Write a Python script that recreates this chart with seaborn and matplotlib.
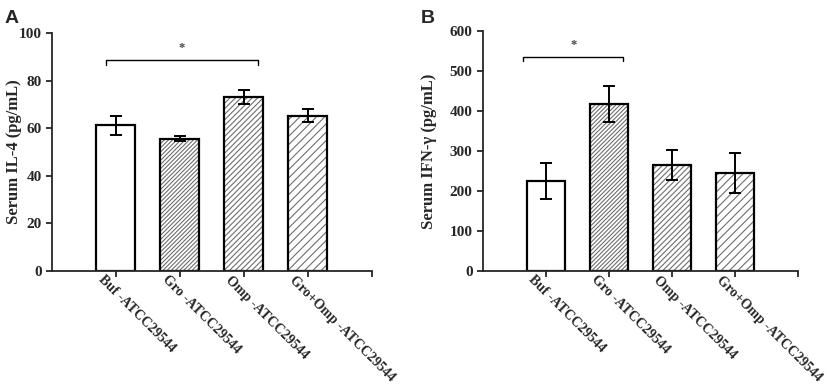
import numpy as np
import seaborn as sns
import matplotlib.pyplot as plt
import matplotlib.transforms as mtransforms
import pandas as pd

sns.set_style('ticks')
plt.rcParams['font.family'] = ['Liberation Serif', 'DejaVu Serif']
plt.rcParams['font.weight'] = 'bold'
plt.rcParams['hatch.color'] = '#6e6e6e'
plt.rcParams['hatch.linewidth'] = 0.8

groups = ['Buf -ATCC29544', 'Gro -ATCC29544', 'Omp -ATCC29544', 'Gro+Omp -ATCC29544']
il4_mean = [61.2, 55.6, 73.1, 65.3]
il4_err = [3.9, 1.1, 2.8, 2.6]
ifn_mean = [225, 418, 265, 246]
ifn_err = [45, 45, 38, 50]
hatches = ['', '////////', '//////', '////']

fig = plt.figure(figsize=(8.29, 3.88), dpi=100)
ax1 = fig.add_axes([0.0627, 0.3015, 0.386, 0.6134])
ax2 = fig.add_axes([0.5826, 0.3015, 0.380, 0.6186])


def draw_panel(ax, means, errs, ymax, ystep, ylabel, sig_pair, sig_y, tick_drop):
    df = pd.DataFrame({'group': groups, 'value': means})
    sns.barplot(data=df, x='group', y='value', ax=ax, color='white',
                width=0.61, linewidth=0, errorbar=None)
    for patch, h in zip(ax.patches, hatches):
        patch.set_hatch(h)
        patch.set_edgecolor('#6e6e6e')
    # black outline on top
    sns.barplot(data=df, x='group', y='value', ax=ax, fill=False,
                width=0.61, linewidth=1.6, edgecolor='black', errorbar=None)
    ax.errorbar(np.arange(len(groups)), means, yerr=errs, fmt='none',
                ecolor='black', elinewidth=1.4, capsize=4, capthick=1.4, zorder=5)

    ax.set_xlim(-1, 4)
    ax.set_ylim(0, ymax)
    ax.set_yticks(np.arange(0, ymax + 1, ystep))
    ax.set_xticks([0, 1, 2, 3, 4])
    ax.tick_params(axis='x', pad=1)
    ax.tick_params(axis='both', direction='out', length=4, width=1.3)
    ax.set_xticklabels(groups + [''], rotation=-45, ha='left', va='center',
                       rotation_mode='anchor', fontsize=10, fontweight='bold')
    # labels start a bit left of the tick, like the original
    shift = mtransforms.ScaledTranslation(-16 / 100, 0, fig.dpi_scale_trans)
    for lbl in ax.get_xticklabels():
        lbl.set_transform(lbl.get_transform() + shift)
    for lbl in ax.get_yticklabels():
        lbl.set_fontsize(11)
        lbl.set_fontweight('bold')
    ax.set_xlabel('')
    ax.set_ylabel(ylabel, fontsize=12, fontweight='bold')
    for s in ['top', 'right']:
        ax.spines[s].set_visible(False)
    for s in ['left', 'bottom']:
        ax.spines[s].set_linewidth(1.3)

    x0, x1 = sig_pair
    ax.plot([x0, x0, x1, x1], [sig_y - tick_drop, sig_y, sig_y, sig_y - tick_drop],
            color='black', lw=1.0)
    ax.text((x0 + x1) / 2, sig_y + tick_drop * 1.2, '*', ha='center', va='bottom',
            fontsize=9, color='#444444')


draw_panel(ax1, il4_mean, il4_err, 100, 20, 'Serum IL-4 (pg/mL)', (-0.16, 2.22), 88.7, 2.2)
draw_panel(ax2, ifn_mean, ifn_err, 600, 100, 'Serum IFN-γ (pg/mL)', (-0.36, 1.23), 536, 12)
ax1.yaxis.set_label_coords(-0.094, 0.5)
ax2.yaxis.set_label_coords(-0.146, 0.5)

fig.text(0.006, 0.94, 'A', fontsize=14, fontweight='bold', family='Liberation Sans')
fig.text(0.507, 0.94, 'B', fontsize=14, fontweight='bold', family='Liberation Sans')

fig.savefig('out.png', dpi=100)
